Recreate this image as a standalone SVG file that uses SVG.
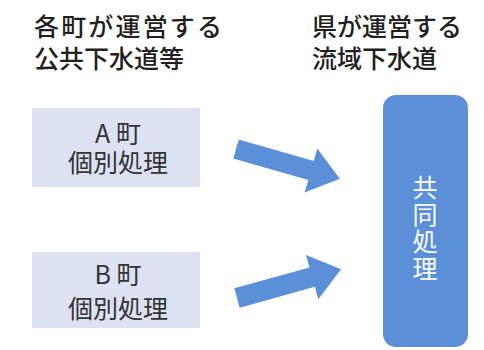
<svg xmlns="http://www.w3.org/2000/svg" width="484" height="350" viewBox="0 0 484 350">
<style>
.hd{font-family:"Noto Sans CJK JP","Noto Sans",sans-serif;font-size:25px;font-weight:500;fill:#231f20}
.bx{fill:#dde2f2}
.bt{font-family:"Noto Sans CJK JP","Noto Sans",sans-serif;font-size:25px;fill:#333;text-anchor:middle}
.arr{fill:#5b8fd8}
.vt{font-family:"Noto Sans CJK JP","Noto Sans",sans-serif;font-size:25px;fill:#fff;writing-mode:vertical-rl;letter-spacing:2px}
</style>
<defs>
<polygon id="arrowShape" points="0,-10 78,-10 78,-23 108,0 78,23 78,10 0,10"/>
</defs>
<rect width="484" height="350" fill="#fff"/>
<g id="header-left">
<text class="hd" x="34" y="36" textLength="188" lengthAdjust="spacing">各町が運営する</text>
<text class="hd" x="34" y="68">公共下水道等</text>
</g>
<g id="header-right">
<text class="hd" x="312" y="36">県が運営する</text>
<text class="hd" x="312" y="68">流域下水道</text>
</g>
<g id="node-a">
<rect class="bx" x="32" y="108" width="168" height="79"/>
<text class="bt" x="118" y="143">A 町</text>
<text class="bt" x="118" y="172">個別処理</text>
</g>
<g id="node-b">
<rect class="bx" x="32" y="252" width="168" height="76"/>
<text class="bt" x="118" y="284">B 町</text>
<text class="bt" x="118" y="318">個別処理</text>
</g>
<g id="node-shared">
<rect x="383" y="95" width="85" height="252" rx="13" fill="#5b8fd8"/>
<text class="vt" x="425" y="175">共同処理</text>
</g>
<g id="connectors">
<use href="#arrowShape" class="arr" transform="translate(236,149) rotate(16)"/>
<use href="#arrowShape" class="arr" transform="translate(237,298) rotate(-15.5)"/>
</g>
</svg>
